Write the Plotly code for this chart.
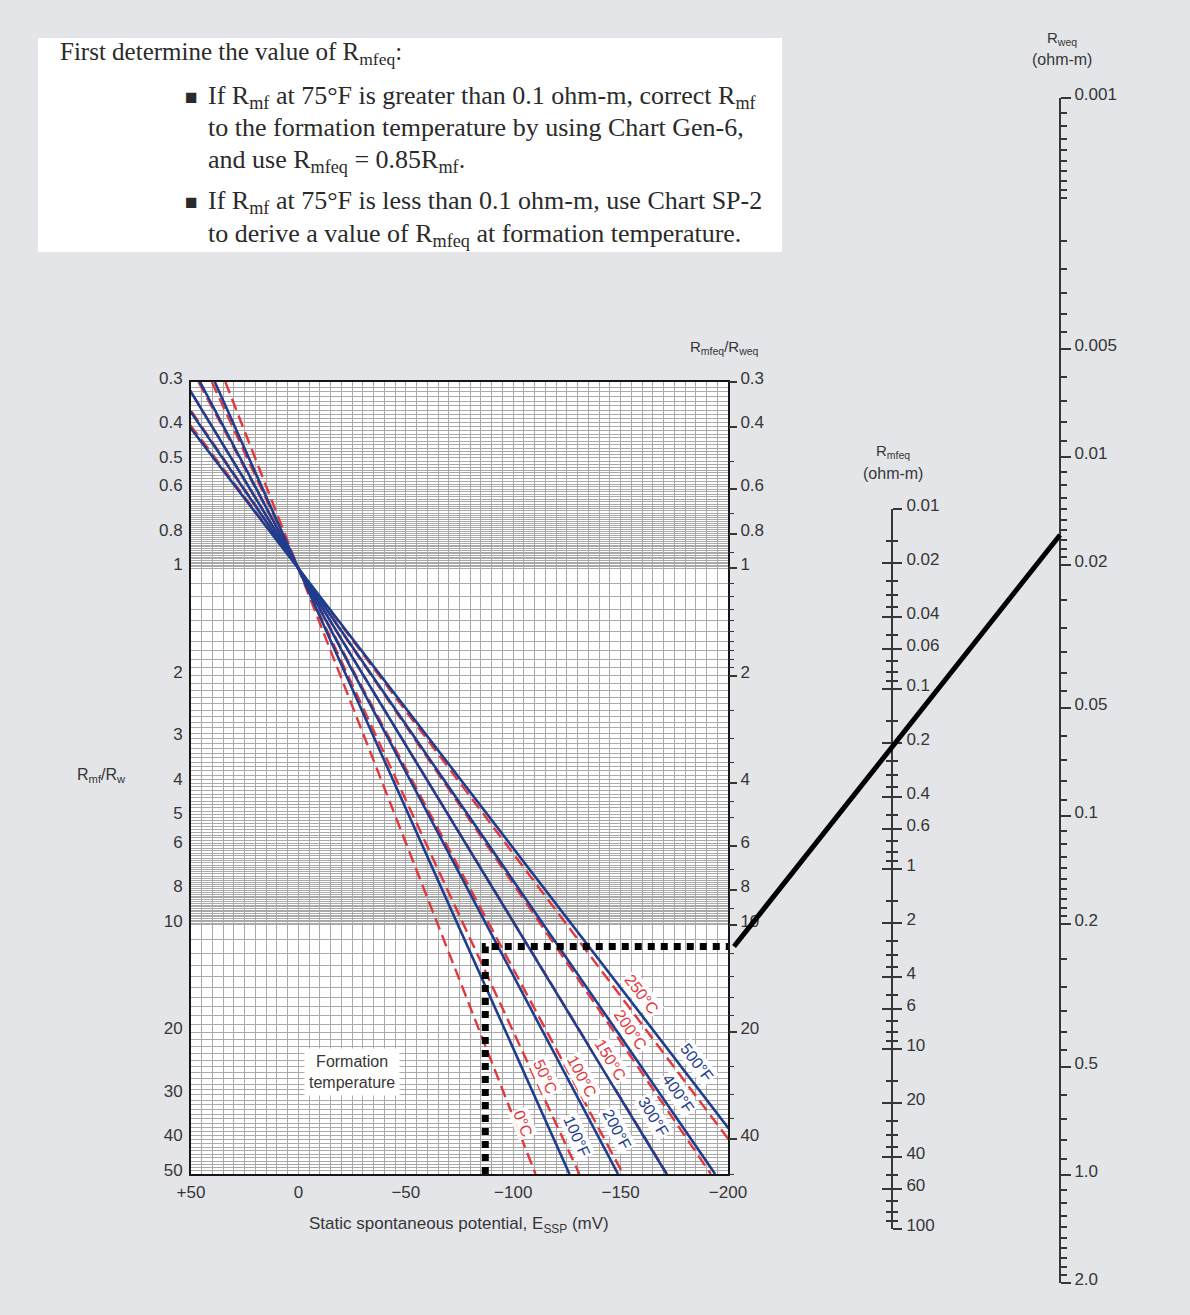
import numpy as np
import plotly.graph_objects as go

# ---------------- data ----------------
celsius_labels = ['0°C', '50°C', '100°C', '150°C', '200°C', '250°C']
celsius_ssp_top = [34.0, 40.3, 46.5, 52.8, 59.1, 65.4]            # E_SSP (mV) at Rmf/Rw = 0.3
celsius_ssp_bottom = [-110.4, -130.8, -151.2, -171.6, -192.0, -212.4]  # E_SSP (mV) at Rmf/Rw = 50
fahrenheit_labels = ['100°F', '200°F', '300°F', '400°F', '500°F']
fahrenheit_ssp_top = [38.9, 45.8, 52.8, 59.7, 66.7]
fahrenheit_ssp_bottom = [-126.2, -148.8, -171.4, -194.0, -216.6]
ratio_top, ratio_pivot, ratio_bottom = 0.3, 1.0, 50.0
ssp_pivot = 0.0

ssp_ticks = [50, 0, -50, -100, -150, -200]
ssp_ticktext = ['+50', '0', '−50', '−100', '−150', '−200']
left_ticks = [0.3, 0.4, 0.5, 0.6, 0.8, 1, 2, 3, 4, 5, 6, 8, 10, 20, 30, 40, 50]
right_ticks = [0.3, 0.4, 0.6, 0.8, 1, 2, 4, 6, 8, 10, 20, 40]
rmfeq_ticks = [0.01, 0.02, 0.04, 0.06, 0.1, 0.2, 0.4, 0.6, 1, 2, 4, 6, 10, 20, 40, 60, 100]
rweq_ticks = [0.001, 0.005, 0.01, 0.02, 0.05, 0.1, 0.2, 0.5, 1.0, 2.0]
rweq_ticktext = ['0.001', '0.005', '0.01', '0.02', '0.05', '0.1', '0.2', '0.5', '1.0', '2.0']

example_ssp = -87.0      # mV
example_ratio = 11.5     # Rmfeq/Rweq
example_rweq = 0.0165    # ohm-m

# ---------------- styling / geometry ----------------
W, H = 1190, 1315
BG = '#e4e5e9'
INK = '#363636'
RED = '#e3373d'
BLUE = '#1f3d8e'
GRID = '#a9a9a9'
SANS = 'Liberation Sans, Arial, sans-serif'
SERIF = 'Liberation Serif, Times New Roman, serif'

MX0, MX1, MY0, MY1 = 191, 728, 382, 1174
RMFEQ_X, RMFEQ_Y0, RMFEQ_Y1 = 891, 509, 1229
RWEQ_X, RWEQ_Y0, RWEQ_Y1 = 1059, 98, 1283
LBL_SHIFT = 4


def fx(px):
    return px / W


def fy(py):
    return 1 - py / H


def fmt(v):
    return '%g' % v


def decade_ticks(mults, lo, hi, exclude):
    out = []
    for e in range(-4, 3):
        for m in mults:
            v = round(m * 10 ** e, 8)
            if lo - 1e-12 <= v <= hi + 1e-12 and all(abs(v - x) > 1e-9 for x in exclude):
                out.append(v)
    return sorted(set(out))


# grid lines of the main chart
grid_y = sorted(set(
    [round(v, 4) for v in np.arange(0.30, 1.0, 0.01)] +
    [round(v, 4) for v in np.arange(1.0, 10.0, 0.1)] +
    [round(v, 4) for v in np.arange(10.0, 50.01, 1.0)]))

right_minor = [0.5, 0.7, 0.9, 1.1, 1.2, 1.3, 1.4, 1.5, 1.6, 1.7, 1.8, 1.9,
               2.5, 3, 3.5, 4.5, 5, 7, 9, 12, 14, 16, 18, 25, 30, 35, 50]
rmfeq_minor = decade_ticks([1.5, 2.5, 3, 3.5, 5, 7, 8, 9], 0.01, 100, rmfeq_ticks)
rweq_minor = decade_ticks([1.1, 1.2, 1.3, 1.4, 1.5, 1.6, 1.7, 1.8, 1.9, 2.5, 3, 3.5, 4, 4.5, 6, 7, 8, 9],
                          0.001, 2.0, rweq_ticks)

fig = go.Figure()

# temperature lines
for top, bot in zip(celsius_ssp_top, celsius_ssp_bottom):
    fig.add_trace(go.Scatter(x=[top, ssp_pivot, bot], y=[ratio_top, ratio_pivot, ratio_bottom],
                             mode='lines', line=dict(color=RED, width=2.4, dash='12px,6px'),
                             hoverinfo='skip', xaxis='x', yaxis='y'))
for top, bot in zip(fahrenheit_ssp_top, fahrenheit_ssp_bottom):
    fig.add_trace(go.Scatter(x=[top, ssp_pivot, bot], y=[ratio_top, ratio_pivot, ratio_bottom],
                             mode='lines', line=dict(color=BLUE, width=2.6),
                             hoverinfo='skip', xaxis='x', yaxis='y'))

# worked example: dotted path
fig.add_trace(go.Scatter(x=[example_ssp, example_ssp, ssp_ticks[-1]],
                         y=[left_ticks[-1], example_ratio, example_ratio],
                         mode='lines', line=dict(color='black', width=7, dash='7px,6px'),
                         hoverinfo='skip', xaxis='x', yaxis='y'))

# dummy traces to create the extra axes
for xa, ya, xv, yv in [('x', 'y3', 0, 1), ('x2', 'y2', 0.5, 1), ('x2', 'y5', 0.5, 1), ('x3', 'y4', 0.5, 0.01)]:
    fig.add_trace(go.Scatter(x=[xv], y=[yv], xaxis=xa, yaxis=ya, mode='markers',
                             marker=dict(opacity=0), hoverinfo='skip'))

tickfont = dict(family=SANS, size=17, color=INK)

layout = dict(
    template='none',
    width=W, height=H, margin=dict(l=0, r=0, t=0, b=0, pad=0), autosize=False,
    paper_bgcolor=BG, plot_bgcolor=BG, showlegend=False,
    xaxis=dict(domain=[fx(MX0), fx(MX1)], range=[50, -200], anchor='y', automargin=False,
               tickvals=ssp_ticks, ticktext=ssp_ticktext, ticks='', tickfont=tickfont,
               ticklabelstandoff=2,
               showgrid=True, gridcolor=GRID, gridwidth=1, zeroline=False,
               minor=dict(dtick=5, tick0=0, showgrid=True, gridcolor=GRID, gridwidth=1, ticks=''),
               showline=True, mirror=True, linecolor='#151515', linewidth=2),
    yaxis=dict(domain=[fy(MY1), fy(MY0)], type='log', anchor='x', automargin=False,
               range=[np.log10(50), np.log10(0.3)],
               tickvals=left_ticks, ticktext=[fmt(v) for v in left_ticks], ticks='',
               tickfont=tickfont, ticklabelstandoff=3, ticklabelshift=LBL_SHIFT,
               showgrid=True, gridcolor=GRID, gridwidth=1, zeroline=False,
               minor=dict(tickvals=grid_y, showgrid=True, gridcolor=GRID, gridwidth=1, ticks=''),
               showline=True, mirror=True, linecolor='#151515', linewidth=2),
    yaxis3=dict(overlaying='y', anchor='x', side='right', type='log', automargin=False,
                range=[np.log10(50), np.log10(0.3)],
                tickvals=right_ticks, ticktext=[fmt(v) for v in right_ticks],
                ticks='outside', ticklen=8, tickwidth=1.6, tickcolor=INK, tickfont=tickfont,
                ticklabelshift=LBL_SHIFT,
                minor=dict(tickvals=right_minor, ticks='outside', ticklen=5, tickwidth=1.3, tickcolor=INK),
                showgrid=False, zeroline=False, showline=False),
    xaxis2=dict(domain=[fx(RMFEQ_X - 20), fx(RMFEQ_X)], range=[0, 1], visible=False, anchor='y2',
                automargin=False),
    yaxis2=dict(domain=[fy(RMFEQ_Y1), fy(RMFEQ_Y0)], type='log', range=[2, -2], anchor='x2',
                side='right', showline=True, linecolor=INK, linewidth=2, automargin=False,
                tickvals=rmfeq_ticks, ticktext=[fmt(v) for v in rmfeq_ticks],
                ticks='outside', ticklen=9, tickwidth=2, tickcolor=INK, tickfont=tickfont,
                ticklabelshift=LBL_SHIFT, ticklabelstandoff=1,
                minor=dict(tickvals=rmfeq_minor, ticks='outside', ticklen=5, tickwidth=1.5, tickcolor=INK),
                showgrid=False, zeroline=False),
    yaxis5=dict(overlaying='y2', anchor='x2', side='right', type='log', range=[2, -2], automargin=False,
                tickvals=rmfeq_ticks, showticklabels=False,
                ticks='inside', ticklen=9, tickwidth=2, tickcolor=INK,
                minor=dict(tickvals=rmfeq_minor, ticks='inside', ticklen=5, tickwidth=1.5, tickcolor=INK),
                showgrid=False, zeroline=False, showline=False),
    xaxis3=dict(domain=[fx(RWEQ_X - 20), fx(RWEQ_X)], range=[0, 1], visible=False, anchor='y4',
                automargin=False),
    yaxis4=dict(domain=[fy(RWEQ_Y1), fy(RWEQ_Y0)], type='log', automargin=False,
                range=[np.log10(rweq_ticks[-1]), np.log10(rweq_ticks[0])], anchor='x3',
                side='right', showline=True, linecolor=INK, linewidth=2,
                tickvals=rweq_ticks, ticktext=rweq_ticktext,
                ticks='outside', ticklen=10, tickwidth=2, tickcolor=INK, tickfont=tickfont,
                ticklabelshift=LBL_SHIFT,
                minor=dict(tickvals=rweq_minor, ticks='outside', ticklen=6, tickwidth=1.5, tickcolor=INK),
                showgrid=False, zeroline=False),
)
fig.update_layout(**layout)

shapes = []
# white text box
shapes.append(dict(type='rect', xref='paper', yref='paper', x0=fx(38), x1=fx(782), y0=fy(252), y1=fy(38),
                   fillcolor='white', line=dict(width=0), layer='below'))
# white background of the main chart
shapes.append(dict(type='rect', xref='x domain', yref='y domain', x0=0, x1=1, y0=0, y1=1,
                   fillcolor='white', line=dict(width=0), layer='below'))


# nomogram connecting line (main chart ratio -> Rweq scale)
def ratio_py(r):
    return MY0 + (np.log10(r) - np.log10(0.3)) / (np.log10(50) - np.log10(0.3)) * (MY1 - MY0)


def rweq_py(v):
    lo, hi = np.log10(rweq_ticks[0]), np.log10(rweq_ticks[-1])
    return RWEQ_Y0 + (np.log10(v) - lo) / (hi - lo) * (RWEQ_Y1 - RWEQ_Y0)


shapes.append(dict(type='line', xref='paper', yref='paper',
                   x0=fx(MX1 + 6), y0=fy(ratio_py(example_ratio)),
                   x1=fx(RWEQ_X + 1), y1=fy(rweq_py(example_rweq)),
                   line=dict(color='black', width=5)))

ann = []


def txt(px, py, text, size=17, color=INK, family=SANS, xanchor='center', yanchor='middle'):
    ann.append(dict(xref='paper', yref='paper', x=fx(px), y=fy(py), text=text, showarrow=False,
                    xanchor=xanchor, yanchor=yanchor, font=dict(family=family, size=size, color=color)))


# top instruction text
SZ = 26
TC = '#2a2a2a'
txt(58, 53, 'First determine the value of R<sub>mfeq</sub>:', 25, TC, SERIF, 'left')
txt(183, 97, '■', 21, TC, SANS, 'left')
txt(206, 97, 'If R<sub>mf</sub> at 75°F is greater than 0.1 ohm-m, correct R<sub>mf</sub>', SZ, TC, SERIF, 'left')
txt(206, 128, 'to the formation temperature by using Chart Gen-6,', SZ, TC, SERIF, 'left')
txt(206, 161, 'and use R<sub>mfeq</sub> = 0.85R<sub>mf</sub>.', SZ, TC, SERIF, 'left')
txt(183, 202, '■', 21, TC, SANS, 'left')
txt(206, 202, 'If R<sub>mf</sub> at 75°F is less than 0.1 ohm-m, use Chart SP-2', SZ, TC, SERIF, 'left')
txt(206, 235, 'to derive a value of R<sub>mfeq</sub> at formation temperature.', SZ, TC, SERIF, 'left')

# axis titles
txt(101, 775, 'R<sub>mf</sub>/R<sub>w</sub>', 16)
txt(459, 1225, 'Static spontaneous potential, E<sub>SSP</sub> (mV)', 17)
txt(725, 347, 'R<sub>mfeq</sub>/R<sub>weq</sub>', 15)
txt(893, 452, 'R<sub>mfeq</sub>', 15)
txt(893, 474, '(ohm-m)', 16)
txt(1062, 38, 'R<sub>weq</sub>', 15)
txt(1062, 60, '(ohm-m)', 16)

# temperature labels along the lines
c_pos = [(-104.7, 36.0), (-114.8, 26.7), (-131.9, 26.7), (-145.1, 23.9), (-154.4, 19.7), (-159.8, 15.7)]
c_ang = [68.6, 65.2, 61.8, 58.7, 55.7, 53.0]
f_pos = [(-129.6, 39.3), (-148.2, 37.6), (-165.2, 34.5), (-176.9, 29.7), (-185.4, 24.4)]
f_ang = [65.9, 62.2, 58.7, 55.5, 52.5]
for lab, (xv, yv), a in zip(celsius_labels, c_pos, c_ang):
    ann.append(dict(xref='x', yref='y', x=xv, y=np.log10(yv), text=lab, showarrow=False,
                    textangle=a, bgcolor='rgba(255,255,255,0.92)', borderpad=1,
                    font=dict(family=SANS, size=16, color=RED)))
for lab, (xv, yv), a in zip(fahrenheit_labels, f_pos, f_ang):
    ann.append(dict(xref='x', yref='y', x=xv, y=np.log10(yv), text=lab, showarrow=False,
                    textangle=a, bgcolor='rgba(255,255,255,0.92)', borderpad=1,
                    font=dict(family=SANS, size=16, color=BLUE)))

ann.append(dict(xref='x', yref='y', x=-25, y=np.log10(25.9), text='Formation<br>temperature',
                showarrow=False, bgcolor='white', borderpad=4,
                font=dict(family=SANS, size=16, color=INK)))

fig.update_layout(shapes=shapes, annotations=ann)
fig.write_html('out.html')
